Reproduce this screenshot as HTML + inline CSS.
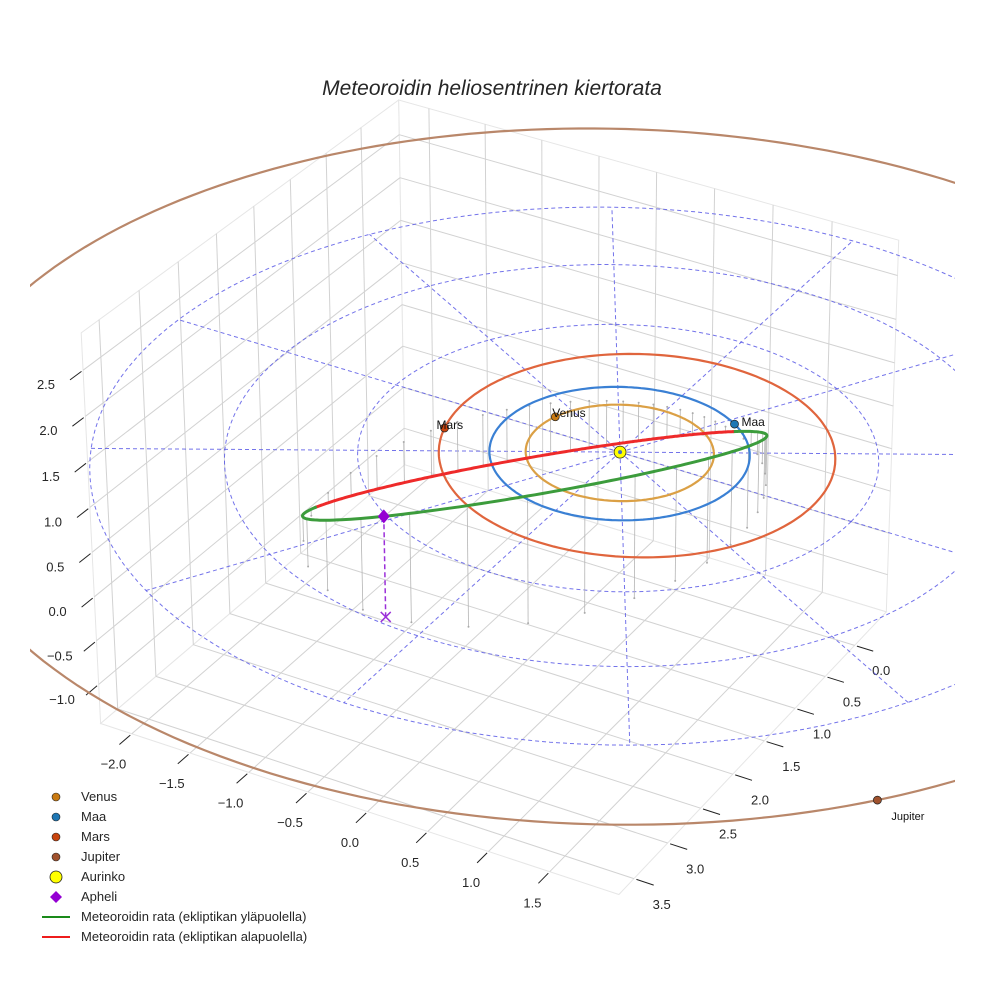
<!DOCTYPE html>
<html><head><meta charset="utf-8"><title>Meteoroidin heliosentrinen kiertorata</title>
<style>
html,body{margin:0;padding:0;background:#fff;}
svg{display:block;font-family:"Liberation Sans",Arial,sans-serif;}
</style></head>
<body>
<svg id="chart" width="984" height="984" viewBox="0 0 984 984" xmlns="http://www.w3.org/2000/svg">
  <defs><clipPath id="plotClip"><rect x="30" y="0" width="925" height="984"/></clipPath></defs>
  <rect x="0" y="0" width="984" height="984" fill="#fff"/>
  <g id="axesG"></g>
  <g id="plotG" clip-path="url(#plotClip)"></g>
  <text x="492" y="95" text-anchor="middle" font-size="21" font-style="italic" fill="#262626">Meteoroidin heliosentrinen kiertorata</text>
  <g id="legend" font-size="13" fill="#262626">
    <g><circle cx="56" cy="797" r="4" fill="#c97a12" stroke="#222" stroke-width="0.6"/><text x="81" y="801">Venus</text></g>
    <g><circle cx="56" cy="817" r="4" fill="#1f77b4" stroke="#222" stroke-width="0.6"/><text x="81" y="821">Maa</text></g>
    <g><circle cx="56" cy="837" r="4" fill="#c8440e" stroke="#222" stroke-width="0.6"/><text x="81" y="841">Mars</text></g>
    <g><circle cx="56" cy="857" r="4" fill="#a0522d" stroke="#222" stroke-width="0.6"/><text x="81" y="861">Jupiter</text></g>
    <g><circle cx="56" cy="877" r="6" fill="#ffff00" stroke="#222" stroke-width="0.8"/><text x="81" y="881">Aurinko</text></g>
    <g><path d="M56 891 L62 897 L56 903 L50 897 Z" fill="#9400d3"/><text x="81" y="901">Apheli</text></g>
    <g><line x1="42" y1="917" x2="70" y2="917" stroke="#1a8a1a" stroke-width="2"/><text x="81" y="921">Meteoroidin rata (ekliptikan yläpuolella)</text></g>
    <g><line x1="42" y1="937" x2="70" y2="937" stroke="#ee1c1c" stroke-width="2"/><text x="81" y="941">Meteoroidin rata (ekliptikan alapuolella)</text></g>
  </g>
</svg>
<script>
// ---- data ----
const xTicks = [-2.0, -1.5, -1.0, -0.5, 0.0, 0.5, 1.0, 1.5];
const yTicks = [0.0, 0.5, 1.0, 1.5, 2.0, 2.5, 3.0, 3.5];
const zTicks = [-1.0, -0.5, 0.0, 0.5, 1.0, 1.5, 2.0, 2.5];
const xLim = [-2.27, 2.06];
const yLim = [-0.55, 3.72];
const zLim = [-1.45, 2.9];

const planetNames = ["Venus", "Maa", "Mars", "Jupiter"];
const planetRadii = [0.723, 1.0, 1.524, 5.203];
const planetCenterX = [0, 0, 0.12, -0.11];
const planetCenterY = [0, 0, -0.07, -0.21];
const planetAngles = [197, -56, 163, 41];
const planetColors = ["#c97a12", "#1f77b4", "#c8440e", "#a0522d"];
const orbitColors = ["#dba045", "#3a80d4", "#e0653d", "#b9876a"];

const meteorA = 2.0;
const meteorE = 0.565;
const meteorI = 145;
const meteorNode = 130;
const meteorPeri = 219;

const eclipticRadii = [1, 2, 3, 4];
const spokeAngles = [0, 30, 60, 90, 120, 150, 180, 210, 240, 270, 300, 330];

const calibData = [[0,0,0],[-2.27,3.72,-1.45],[2.06,3.72,-1.45],[-2.27,3.72,2.5],[-2.27,3.72,0],[-2.0,3.72,-1.45],[1.5,3.72,-1.45],[2.06,0,-1.45],[2.06,2.0,-1.45],[-2.27,3.72,2.9]];
const calibPix = [[620,452],[100,725],[619,895],[82,370],[95,597],[132,732],[550,872],[855,646],[732,773],[82,333]];

// ---- camera fit (DLT) ----
function solve(A, b){
  const n=b.length; const M=A.map((r,i)=>r.concat([b[i]]));
  for(let c=0;c<n;c++){
    let p=c; for(let r=c+1;r<n;r++) if(Math.abs(M[r][c])>Math.abs(M[p][c])) p=r;
    [M[c],M[p]]=[M[p],M[c]];
    for(let r=0;r<n;r++){ if(r===c) continue; const f=M[r][c]/M[c][c]; for(let k=c;k<=n;k++) M[r][k]-=f*M[c][k]; }
  }
  return M.map((r,i)=>r[n]/r[i]);
}
const K=492;
const cam=(function(){
  const rows=[], rhs=[];
  calibData.forEach((p,i)=>{
    const [X,Y,Z]=p; const u=(calibPix[i][0]-K)/K, v=(calibPix[i][1]-K)/K;
    rows.push([X,Y,Z,1,0,0,0,0,-u*X,-u*Y,-u*Z]); rhs.push(u);
    rows.push([0,0,0,0,X,Y,Z,1,-v*X,-v*Y,-v*Z]); rhs.push(v);
  });
  const AtA=[], Atb=[];
  for(let i=0;i<11;i++){ AtA.push([]); let s=0;
    for(let j=0;j<11;j++){ let t=0; for(let r=0;r<rows.length;r++) t+=rows[r][i]*rows[r][j]; AtA[i].push(t+(i===j?1e-9:0)); }
    for(let r=0;r<rows.length;r++) s+=rows[r][i]*rhs[r]; Atb.push(s); }
  return solve(AtA,Atb);
})();
function P(x,y,z){
  const w=cam[8]*x+cam[9]*y+cam[10]*z+1;
  return [K+K*(cam[0]*x+cam[1]*y+cam[2]*z+cam[3])/w, K+K*(cam[4]*x+cam[5]*y+cam[6]*z+cam[7])/w];
}

// ---- drawing helpers ----
const NS="http://www.w3.org/2000/svg";
const axesG=document.getElementById('axesG');
const plotG=document.getElementById('plotG');
function mk(tag,parent){const e=document.createElementNS(NS,tag);parent.appendChild(e);return e;}
function setA(e,o){for(const k in o) e.setAttribute(k,o[k]);}
function pathOf(pts){return pts.map((p,i)=>(i?'L':'M')+p[0].toFixed(1)+' '+p[1].toFixed(1)).join('');}
function seg(parent,a,b,stroke,width,dash){const l=mk('path',parent);setA(l,{d:pathOf([a,b]),stroke:stroke,'stroke-width':width,fill:'none'});if(dash)l.setAttribute('stroke-dasharray',dash);return l;}

const [x0,x1]=xLim,[y0,y1]=yLim,[z0,z1]=zLim;
const gridC="#d2d2d2";
// panes
const paneDefs=[
  [[x0,y0,z0],[x0,y1,z0],[x0,y1,z1],[x0,y0,z1]],
  [[x0,y0,z0],[x1,y0,z0],[x1,y0,z1],[x0,y0,z1]],
  [[x0,y0,z0],[x1,y0,z0],[x1,y1,z0],[x0,y1,z0]]];
paneDefs.forEach(pd=>{
  const pg=mk('path',axesG);
  setA(pg,{d:pathOf(pd.map(p=>P(...p)))+'Z',fill:'#fff',stroke:'#e6e6e6','stroke-width':1});
  
  
});
// grid lines
yTicks.forEach(y=>{
  const a=seg(axesG,P(x0,y,z0),P(x0,y,z1),gridC,1);
  
  
  const b=seg(axesG,P(x0,y,z0),P(x1,y,z0),gridC,1);
  
  
});
xTicks.forEach(x=>{
  const a=seg(axesG,P(x,y0,z0),P(x,y0,z1),gridC,1);
  
  
  const b=seg(axesG,P(x,y0,z0),P(x,y1,z0),gridC,1);
  
  
});
zTicks.forEach(z=>{
  const a=seg(axesG,P(x0,y0,z),P(x0,y1,z),gridC,1);
  
  
  const b=seg(axesG,P(x0,y0,z),P(x1,y0,z),gridC,1);
  
  
});
// ticks + labels
function tickLabel(txt,px,py,anchor,name){
  const t=mk('text',axesG);
  setA(t,{x:px.toFixed(1),y:py.toFixed(1),'font-size':13,fill:'#262626','text-anchor':anchor});
  t.textContent=txt;
  
  
}
function fmt(v){return (v<0?'\u2212':'')+Math.abs(v).toFixed(1);}
xTicks.forEach(x=>{
  const a=P(x,y1+0.02,z0), b=P(x,y1+0.16,z0);
  const s=seg(axesG,a,b,'#222',1);
  
  
  tickLabel(fmt(x),b[0]-6,b[1]+24,'middle','x-tick-label');
});
yTicks.forEach(y=>{
  const a=P(x1+0.02,y,z0), b=P(x1+0.16,y,z0);
  const s=seg(axesG,a,b,'#222',1);
  
  
  tickLabel(fmt(y),b[0]+8,b[1]+24,'middle','y-tick-label');
});
zTicks.forEach(z=>{
  const a=P(x0,y1+0.02,z), b=P(x0,y1+0.16,z);
  const s=seg(axesG,a,b,'#222',1);
  
  
  tickLabel(fmt(z),b[0]-24,b[1]+9,'middle','z-tick-label');
});

// ---- ecliptic polar grid ----
const rMax=eclipticRadii[eclipticRadii.length-1];
eclipticRadii.forEach(r=>{
  const pts=[];for(let k=0;k<=180;k++){const t=k*2*Math.PI/180;pts.push(P(r*Math.cos(t),r*Math.sin(t),0));}
  const c=mk('path',plotG);
  setA(c,{d:pathOf(pts),fill:'none',stroke:'#5b5be6','stroke-width':1,'stroke-dasharray':'4 3','stroke-opacity':0.85});
  
  
});
spokeAngles.forEach(a=>{
  const t=a*Math.PI/180;
  const s=seg(plotG,P(0,0,0),P(rMax*Math.cos(t),rMax*Math.sin(t),0),'#5b5be6',1,'4 3');
  s.setAttribute('stroke-opacity','0.85');
  
  
});

// ---- meteoroid orbit ----
const d2r=Math.PI/180;
function meteorPos(nuDeg){
  const nu=nuDeg*d2r, p=meteorA*(1-meteorE*meteorE), r=p/(1+meteorE*Math.cos(nu));
  const u=meteorPeri*d2r+nu, O=meteorNode*d2r, i=meteorI*d2r;
  const cu=Math.cos(u), su=Math.sin(u);
  return [r*(cu*Math.cos(O)-su*Math.cos(i)*Math.sin(O)), r*(cu*Math.sin(O)+su*Math.cos(i)*Math.cos(O)), r*su*Math.sin(i)];
}
const mPts=[];for(let k=0;k<=360;k++) mPts.push(meteorPos(k));
// stems
for(let k=0;k<360;k+=8){
  const q=mPts[k];
  const s=seg(plotG,P(q[0],q[1],q[2]),P(q[0],q[1],0),'#b4b4b4',0.8);
  
  
  const b=P(q[0],q[1],0);const d=mk('circle',plotG);
  setA(d,{cx:b[0].toFixed(1),cy:b[1].toFixed(1),r:1,fill:'#aaa'});
  
  
}

// ---- planet orbits ----
planetRadii.forEach((r,i)=>{
  const cx=planetCenterX[i], cy=planetCenterY[i];
  const pts=[];for(let k=0;k<=240;k++){const t=k*2*Math.PI/240;pts.push(P(cx+r*Math.cos(t),cy+r*Math.sin(t),0));}
  const c=mk('path',plotG);
  setA(c,{d:pathOf(pts),fill:'none',stroke:orbitColors[i],'stroke-width':2.2});
  
  
});

// meteor segments split by sign of z
let run=[mPts[0]];
function flush(){
  if(run.length<2) return;
  const above=run[Math.floor(run.length/2)][2]>=0;
  const pl=mk('path',plotG);
  setA(pl,{d:pathOf(run.map(q=>P(...q))),fill:'none',stroke:above?'#3c9c3c':'#ee2a2a','stroke-width':3,'stroke-linejoin':'round'});
  
  
}
for(let k=1;k<mPts.length;k++){
  const prev=mPts[k-1], cur=mPts[k];
  if((prev[2]>=0)!==(cur[2]>=0)){run.push(cur);flush();run=[prev,cur];}
  else run.push(cur);
}
flush();

// aphelion
const aph=meteorPos(180);
const aTop=P(...aph), aBot=P(aph[0],aph[1],0);
const dl=seg(plotG,aTop,aBot,'#9b30d9',1.5,'5 3');


const xm=mk('path',plotG);
setA(xm,{d:`M${aBot[0]-5} ${aBot[1]-5}L${aBot[0]+5} ${aBot[1]+5}M${aBot[0]-5} ${aBot[1]+5}L${aBot[0]+5} ${aBot[1]-5}`,stroke:'#9b30d9','stroke-width':1.5});


const dm=mk('path',plotG);
setA(dm,{d:`M${aTop[0]} ${aTop[1]-7}L${aTop[0]+6} ${aTop[1]}L${aTop[0]} ${aTop[1]+7}L${aTop[0]-6} ${aTop[1]}Z`,fill:'#9400d3'});



// planets
const labelDx=[-3,7,-8,14], labelDy=[0,2,1,20], labelSize=[12,12,12,11];
planetRadii.forEach((r,i)=>{
  const t=planetAngles[i]*d2r; const p=P(planetCenterX[i]+r*Math.cos(t),planetCenterY[i]+r*Math.sin(t),0);
  const c=mk('circle',plotG);
  setA(c,{cx:p[0].toFixed(1),cy:p[1].toFixed(1),r:4,fill:planetColors[i],stroke:'#222','stroke-width':0.7});
  
  
  const tx=mk('text',plotG);
  setA(tx,{x:(p[0]+labelDx[i]).toFixed(1),y:(p[1]+labelDy[i]).toFixed(1),'font-size':labelSize[i],fill:'#111'});
  tx.textContent=planetNames[i];
  
  
});
// sun
const sp=P(0,0,0);
const sun=mk('circle',plotG);
setA(sun,{cx:sp[0],cy:sp[1],r:6,fill:'#ffff00',stroke:'#222','stroke-width':0.8});


const sc=mk('circle',plotG);
setA(sc,{cx:sp[0],cy:sp[1],r:2,fill:'#4a6fc0'});


</script>
</body></html>
